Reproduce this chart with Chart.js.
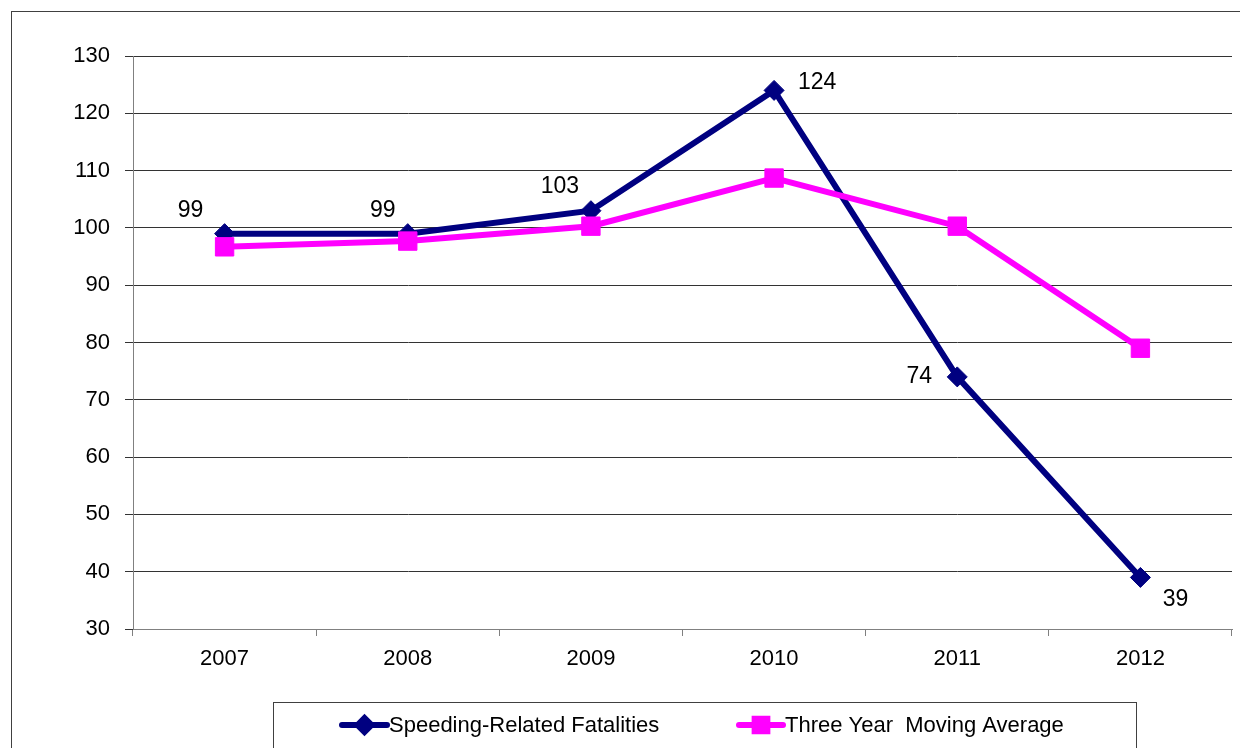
<!DOCTYPE html>
<html>
<head>
<meta charset="utf-8">
<script src="https://cdn.jsdelivr.net/npm/chart.js@4.4.1/dist/chart.umd.min.js"></script>
<style>
  html, body { margin: 0; padding: 0; background: #fff; overflow: hidden; }
  #wrap { position: relative; width: 1240px; height: 748px; }
  canvas { display: block; }
</style>
</head>
<body>
<div id="wrap"><canvas id="chart" width="1240" height="748"></canvas></div>
<script>
// Chart data
const years = ['2007', '2008', '2009', '2010', '2011', '2012'];
const speedingFatalities = [99, 99, 103, 124, 74, 39];
const movingAverage = [96.7, 97.7, 100.3, 108.7, 100.3, 79];
const seriesNames = ['Speeding-Related Fatalities', 'Three Year  Moving Average'];
const yTicks = [30, 40, 50, 60, 70, 80, 90, 100, 110, 120, 130];

const FONT = '"Liberation Sans", Arial, sans-serif';

// Label offsets (pixels) for the speeding series, relative to each point
const labelOffsets = [[-34, -23], [-25, -23], [-31, -24], [43, -8], [-38, 0], [35, 22]];

// Outer frame like the original spreadsheet chart
const framePlugin = {
  id: 'frame',
  beforeDraw(chart) {
    const ctx = chart.ctx;
    ctx.save();
    ctx.fillStyle = '#fff';
    ctx.fillRect(0, 0, chart.width, chart.height);
    ctx.strokeStyle = '#404040';
    ctx.lineWidth = 1;
    ctx.strokeRect(11.5, 11.5, 1240, 760);
    ctx.restore();
  }
};

// Value labels next to the speeding points
const valueLabels = {
  id: 'valueLabels',
  afterDatasetsDraw(chart) {
    const ctx = chart.ctx;
    const meta = chart.getDatasetMeta(0);
    ctx.save();
    ctx.font = '23px ' + FONT;
    ctx.fillStyle = '#000';
    ctx.textAlign = 'center';
    ctx.textBaseline = 'middle';
    meta.data.forEach((pt, i) => {
      const [dx, dy] = labelOffsets[i];
      ctx.fillText(String(speedingFatalities[i]), pt.x + dx, pt.y + dy);
    });
    ctx.restore();
  }
};

// Boxed legend at the bottom
const boxLegend = {
  id: 'boxLegend',
  afterDraw(chart) {
    const ctx = chart.ctx;
    ctx.save();
    ctx.strokeStyle = '#404040';
    ctx.lineWidth = 1;
    ctx.strokeRect(273.5, 702.5, 863, 46);
    const y = 725;
    const entries = [{ x1: 342, x2: 387 }, { x1: 739, x2: 783 }];
    entries.forEach((e, i) => {
      const ds = chart.data.datasets[i];
      ctx.strokeStyle = ds.borderColor;
      ctx.lineWidth = 6;
      ctx.lineCap = 'round';
      ctx.beginPath();
      ctx.moveTo(e.x1, y);
      ctx.lineTo(e.x2, y);
      ctx.stroke();
      Chart.helpers.drawPoint(ctx, {
        pointStyle: ds.pointStyle,
        radius: i === 0 ? 7 : 9,
        rotation: 0,
        borderWidth: 1
      }, (e.x1 + e.x2) / 2, y);
      ctx.fillStyle = ds.borderColor;
      ctx.fill();
      ctx.fillStyle = '#000';
      ctx.font = '22px ' + FONT;
      ctx.textAlign = 'left';
      ctx.textBaseline = 'middle';
      ctx.fillText(seriesNames[i], e.x2 + 2, y + 1);
    });
    ctx.restore();
  }
};

const ctx = document.getElementById('chart').getContext('2d');
new Chart(ctx, {
  type: 'line',
  data: {
    labels: years,
    datasets: [
      {
        label: seriesNames[0],
        data: speedingFatalities,
        borderColor: '#000080',
        backgroundColor: '#000080',
        borderWidth: 6,
        pointStyle: 'rectRot',
        pointRadius: 10,
        pointBorderWidth: 1,
        tension: 0,
        order: 1
      },
      {
        label: seriesNames[1],
        data: movingAverage,
        borderColor: '#FF00FF',
        backgroundColor: '#FF00FF',
        borderWidth: 6,
        pointStyle: 'rect',
        pointRadius: 13,
        pointBorderWidth: 1,
        tension: 0,
        order: 0
      }
    ]
  },
  options: {
    responsive: false,
    animation: false,
    layout: {
      autoPadding: false,
      padding: { top: 56, right: 8, bottom: 59, left: 0 }
    },
    plugins: {
      legend: { display: false },
      tooltip: { enabled: false }
    },
    scales: {
      x: {
        offset: true,
        grid: {
          offset: true,
          drawOnChartArea: false,
          drawTicks: true,
          tickLength: 7,
          color: '#808080'
        },
        border: { color: '#808080' },
        ticks: {
          color: '#000',
          font: { family: FONT, size: 22 },
          padding: 10,
          maxRotation: 0
        },
        afterFit(scale) {
          scale.height = 60;
          scale.paddingLeft = 0;
          scale.paddingRight = 0;
        }
      },
      y: {
        min: 30,
        max: 130,
        afterBuildTicks(scale) { scale.ticks = yTicks.map(v => ({ value: v })); },
        grid: {
          color: '#333',
          tickLength: 8
        },
        border: { color: '#808080' },
        ticks: {
          color: '#000',
          font: { family: FONT, size: 22 },
          padding: 15
        },
        afterFit(scale) {
          scale.width = 133;
          scale.paddingTop = 0;
          scale.paddingBottom = 0;
        }
      }
    }
  },
  plugins: [framePlugin, valueLabels, boxLegend]
});
</script>
</body>
</html>
